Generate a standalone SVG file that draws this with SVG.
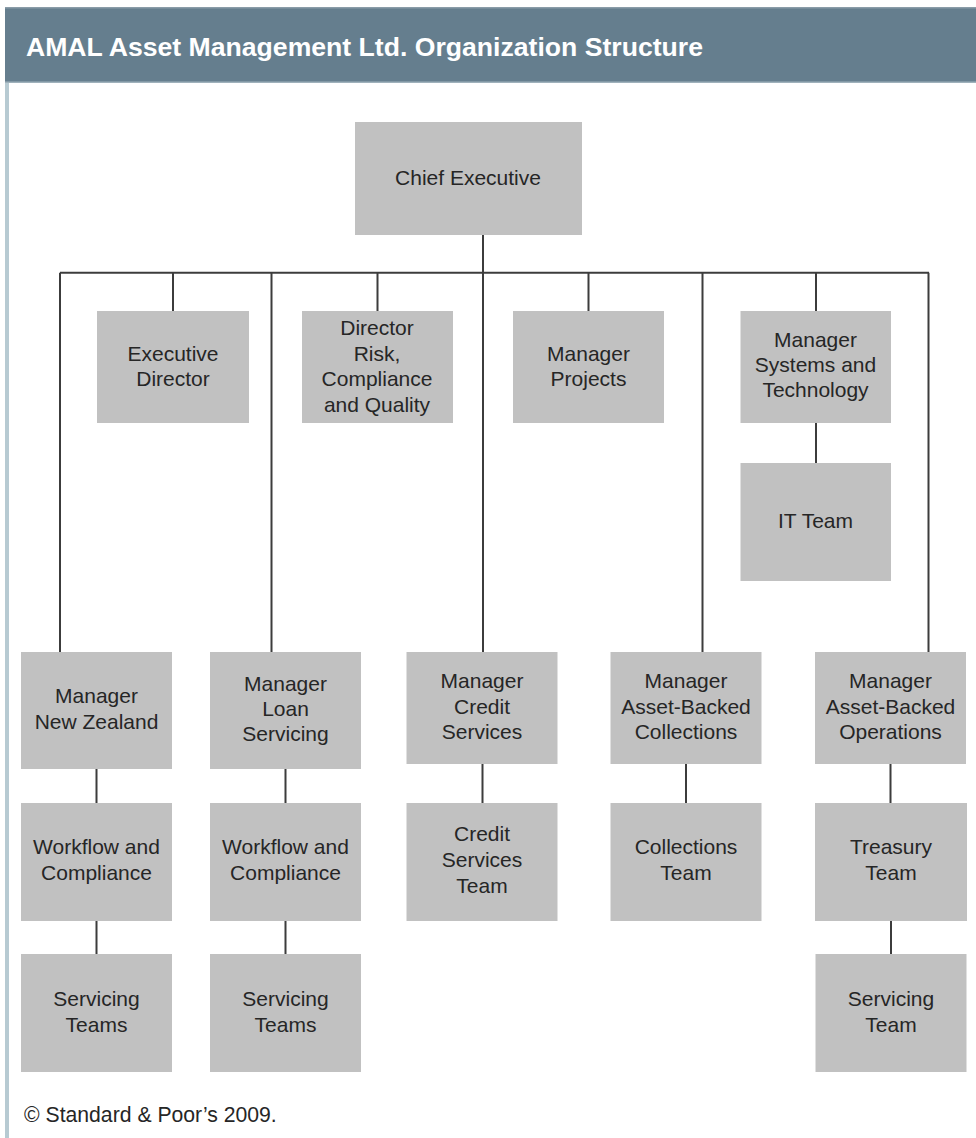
<svg xmlns="http://www.w3.org/2000/svg" width="976" height="1138" viewBox="0 0 976 1138">
<style>
.box{fill:#c1c1c1}
.t{font-family:"Liberation Sans",Arial,sans-serif;font-size:21px;fill:#262626;text-anchor:middle}
.ln{stroke:#3c3c3c;stroke-width:2;fill:none}
</style>
<rect x="0" y="0" width="976" height="1138" fill="#ffffff"/>
<rect x="5" y="80" width="4" height="1058" fill="#b7cad2"/>
<rect id="header" x="5" y="7" width="971" height="76" fill="#657e8e"/>
<rect x="5" y="7" width="971" height="1.5" fill="#8a9ca8"/>
<rect x="5" y="81.5" width="971" height="1.5" fill="#9fb1bb"/>
<text x="26" y="56" font-family="'Liberation Sans',Arial,sans-serif" font-size="25.5" font-weight="bold" fill="#ffffff" textLength="677" lengthAdjust="spacingAndGlyphs">AMAL Asset Management Ltd. Organization Structure</text>
<g id="connectors" class="ln">
<path d="M483 235V652"/>
<path d="M60 272.7H929"/>
<path d="M60 272.7V652M271.5 272.7V652M702.5 272.7V652M928.5 272.7V652"/>
<path d="M173 272.7V311M377.5 272.7V311M588.5 272.7V311M816 272.7V311"/>
<path d="M816 423V463"/>
<path d="M96.5 769V803M285.5 769V803M482.5 764V803M686 764V803M890.5 764V803"/>
<path d="M96.5 921V954M285.5 921V954M891 921V954"/>
</g>
<g id="chief"><rect class="box" x="355" y="122" width="227" height="113"/><text class="t" x="468" y="185">Chief Executive</text></g>
<g id="exec-director"><rect class="box" x="97" y="311" width="152" height="112"/><text class="t" x="173" y="361">Executive</text><text class="t" x="173" y="386">Director</text></g>
<g id="director-risk"><rect class="box" x="302" y="311" width="151" height="112"/><text class="t" x="377" y="335">Director</text><text class="t" x="377" y="360.5">Risk,</text><text class="t" x="377" y="386">Compliance</text><text class="t" x="377" y="411.5">and Quality</text></g>
<g id="manager-projects"><rect class="box" x="513" y="311" width="151" height="112"/><text class="t" x="588.5" y="361">Manager</text><text class="t" x="588.5" y="386">Projects</text></g>
<g id="manager-systems"><rect class="box" x="740.5" y="311" width="150.5" height="112"/><text class="t" x="815.5" y="346.5">Manager</text><text class="t" x="815.5" y="372">Systems and</text><text class="t" x="815.5" y="397">Technology</text></g>
<g id="it-team"><rect class="box" x="740.5" y="463" width="150.5" height="118"/><text class="t" x="815.5" y="528">IT Team</text></g>
<g id="manager-nz"><rect class="box" x="21" y="652" width="151" height="117"/><text class="t" x="96.5" y="703">Manager</text><text class="t" x="96.5" y="729">New Zealand</text></g>
<g id="manager-loan"><rect class="box" x="210" y="652" width="151" height="117"/><text class="t" x="285.5" y="690.5">Manager</text><text class="t" x="285.5" y="716">Loan</text><text class="t" x="285.5" y="741">Servicing</text></g>
<g id="manager-credit"><rect class="box" x="406.5" y="652" width="151" height="112"/><text class="t" x="482" y="688">Manager</text><text class="t" x="482" y="713.5">Credit</text><text class="t" x="482" y="739">Services</text></g>
<g id="manager-collections"><rect class="box" x="610.5" y="652" width="151" height="112"/><text class="t" x="686" y="688">Manager</text><text class="t" x="686" y="713.5">Asset-Backed</text><text class="t" x="686" y="739">Collections</text></g>
<g id="manager-operations"><rect class="box" x="815" y="652" width="151" height="112"/><text class="t" x="890.5" y="688">Manager</text><text class="t" x="890.5" y="713.5">Asset-Backed</text><text class="t" x="890.5" y="739">Operations</text></g>
<g id="workflow-nz"><rect class="box" x="21" y="803" width="151" height="118"/><text class="t" x="96.5" y="854">Workflow and</text><text class="t" x="96.5" y="879.5">Compliance</text></g>
<g id="workflow-loan"><rect class="box" x="210" y="803" width="151" height="118"/><text class="t" x="285.5" y="854">Workflow and</text><text class="t" x="285.5" y="879.5">Compliance</text></g>
<g id="credit-team"><rect class="box" x="406.5" y="803" width="151" height="118"/><text class="t" x="482" y="841">Credit</text><text class="t" x="482" y="867">Services</text><text class="t" x="482" y="893">Team</text></g>
<g id="collections-team"><rect class="box" x="610.5" y="803" width="151" height="118"/><text class="t" x="686" y="854">Collections</text><text class="t" x="686" y="880">Team</text></g>
<g id="treasury-team"><rect class="box" x="815" y="803" width="152" height="118"/><text class="t" x="891" y="854">Treasury</text><text class="t" x="891" y="880">Team</text></g>
<g id="servicing-nz"><rect class="box" x="21" y="954" width="151" height="118"/><text class="t" x="96.5" y="1006">Servicing</text><text class="t" x="96.5" y="1031.5">Teams</text></g>
<g id="servicing-loan"><rect class="box" x="210" y="954" width="151" height="118"/><text class="t" x="285.5" y="1006">Servicing</text><text class="t" x="285.5" y="1031.5">Teams</text></g>
<g id="servicing-ops"><rect class="box" x="815.5" y="954" width="151" height="118"/><text class="t" x="891" y="1006">Servicing</text><text class="t" x="891" y="1031.5">Team</text></g>
<text x="24" y="1122" font-family="'Liberation Sans',Arial,sans-serif" font-size="21.2" fill="#262626">© Standard &amp; Poor’s 2009.</text>
</svg>
